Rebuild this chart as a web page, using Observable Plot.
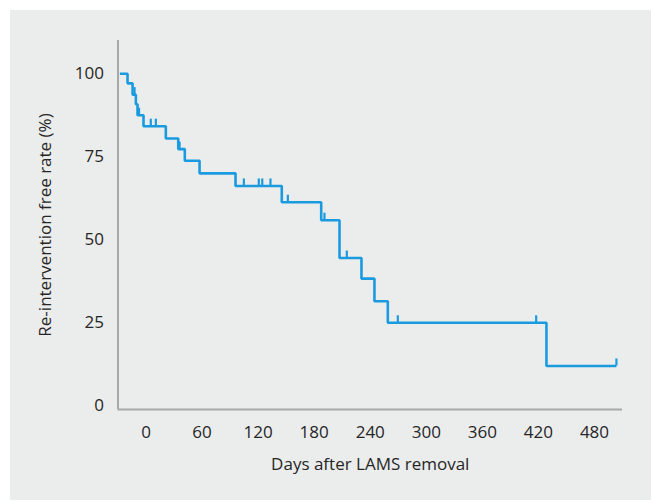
<!DOCTYPE html>
<html>
<head>
<meta charset="utf-8">
<script src="https://cdn.jsdelivr.net/npm/d3@7"></script>
<script src="https://cdn.jsdelivr.net/npm/@observablehq/plot@0.6"></script>
<style>
  html, body { margin: 0; padding: 0; background: #ffffff; }
  #panel { position: absolute; left: 10px; top: 10px; width: 641px; height: 490px; background: #ebecec; }
  #panel svg { display: block; }
</style>
</head>
<body>
<div id="panel"></div>
<script>
// Kaplan-Meier step points (days after LAMS removal, re-intervention free rate %)
const stepDays  = [-28, -19.8, -14.4, -10.9, -9.1, -2.7, 21.2, 34.5, 41.5, 57.3, 95.8, 145.3, 187.5, 207.1, 230.6, 244.5, 258.8, 428.6, 503.5];
const stepRates = [100, 97.1, 93.7, 90.8, 87.5, 84.2, 80.5, 77.3, 73.8, 70.0, 66.2, 61.3, 55.9, 44.5, 38.3, 31.5, 25.0, 12.0, 12.0];

// Censored observations
const censorDays  = [-12.3, -7.5, 5.1, 10.5, 35.9, 104.7, 120.7, 124.4, 133.2, 151.8, 191.0, 214.9, 269.5, 417.6, 503.5];
const censorRates = [93.7, 87.5, 84.2, 84.2, 77.3, 66.2, 66.2, 66.2, 66.2, 61.3, 55.9, 44.5, 25.0, 25.0, 12.0];

const xTicks = [0, 60, 120, 180, 240, 300, 360, 420, 480];
const yTicks = [0, 25, 50, 75, 100];
const xDomain = [-30, 510];
const yDomain = [-1.1, 110];
const xLabel = "Days after LAMS removal";
const yLabel = "Re-intervention free rate (%)";

const steps = stepDays.map((d, i) => ({x: d, y: stepRates[i]}));
const censors = censorDays.map((d, i) => ({x: d, y: censorRates[i]}));

const blue = "#1a9be0";
const axisGray = "#a7a8a8";

const chart = Plot.plot({
  width: 641,
  height: 490,
  marginLeft: 107.5,
  marginRight: 29,
  marginTop: 30,
  marginBottom: 91,
  style: {
    fontFamily: "'Open Sans', sans-serif",
    fontSize: "17px",
    color: "#262626",
    background: "transparent"
  },
  x: {domain: xDomain, ticks: xTicks, tickSize: 0, tickPadding: 16, label: xLabel, labelArrow: "none", labelAnchor: "center", labelOffset: 60},
  y: {domain: yDomain, ticks: yTicks, tickSize: 0, tickPadding: 14, label: yLabel, labelArrow: "none", labelAnchor: "center", labelOffset: 79},
  marks: [
    Plot.ruleX([xDomain[0]], {stroke: axisGray, strokeWidth: 2}),
    Plot.ruleY([yDomain[0]], {stroke: axisGray, strokeWidth: 2}),
    Plot.line(steps, {x: "x", y: "y", curve: "step-after", stroke: blue, strokeWidth: 2.6, strokeLinejoin: "miter", strokeLinecap: "butt"}),
    Plot.ruleX(censors, {x: "x", y1: "y", y2: "y", insetTop: -7, stroke: blue, strokeWidth: 2.2})
  ]
});
document.getElementById("panel").appendChild(chart);
</script>
</body>
</html>
